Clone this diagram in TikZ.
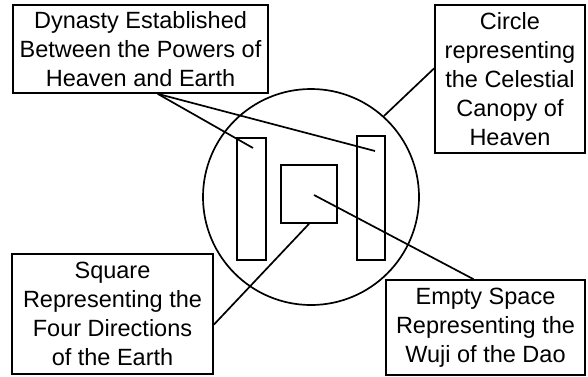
\documentclass[tikz,border=0pt]{standalone}
\usepackage{fontspec}
\setmainfont{Liberation Sans}
\def\LabelSize{\fontsize{23.5}{29}\selectfont}
\def\CanopyR{108}

\tikzset{
    label box/.style={draw, line width=1.7pt, align=center, inner sep=0pt, font=\LabelSize},
    plain shape/.style={draw, line width=1.7pt, inner sep=0pt},
    pointer/.style={line width=1.7pt}
}

\begin{document}
\begin{tikzpicture}[x=1pt,y=-1pt]

% Page area
\useasboundingbox (0,0) rectangle (588,376);

% =====================================================
% EMBLEM: CIRCLE, TWO BARS, SQUARE
% =====================================================
\node[plain shape, circle, minimum size=2*\CanopyR] (canopy) at (311,197) {};

\node[plain shape, minimum width=29, minimum height=122] (leftbar) at (251.5,199) {};
\node[plain shape, minimum width=28, minimum height=124] (rightbar) at (371,198) {};
\node[plain shape, minimum width=56, minimum height=58] (square) at (309,194) {};

% Points the pointers reach inside the shapes
\coordinate (leftpt) at (253,148);
\coordinate (rightpt) at (375,151);
\coordinate (voidpt) at (314,195);

% =====================================================
% LABELS
% =====================================================
\node[label box, minimum width=255, minimum height=88] (dynasty) at (140.5,49)
    {Dynasty Established\\Between the Powers of\\Heaven and Earth};

\node[label box, minimum width=150, minimum height=148] (heaven) at (510,79)
    {Circle\\representing\\the Celestial\\Canopy of\\Heaven};

\node[label box, minimum width=201, minimum height=120] (earth) at (112.5,314)
    {Square\\Representing the\\Four Directions\\of the Earth};

\node[label box, minimum width=199, minimum height=95] (wuji) at (485.5,327.5)
    {Empty Space\\Representing the\\Wuji of the Dao};

% =====================================================
% POINTERS
% =====================================================
\draw[pointer] (dynasty.-69) -- (leftpt);
\draw[pointer] (dynasty.-69) -- (rightpt);
\draw[pointer] (heaven.172) -- (canopy.48);
\draw[pointer] (earth.-6) -- (square.south);
\draw[pointer] (wuji.104) -- (voidpt);

\end{tikzpicture}
\end{document}
